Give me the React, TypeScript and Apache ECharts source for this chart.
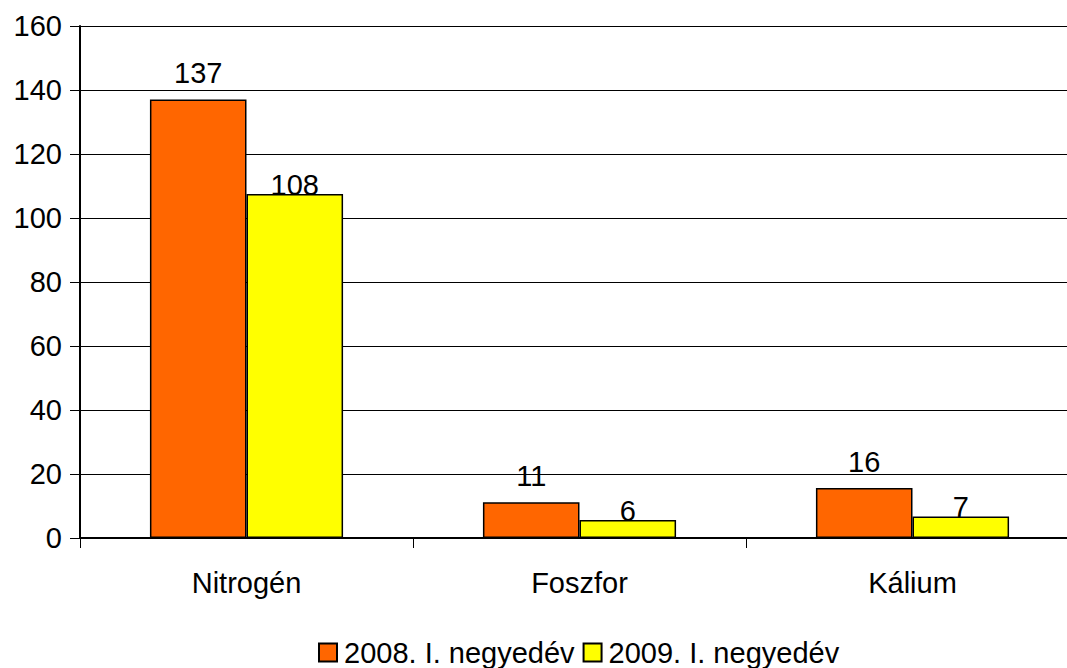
import React, { useEffect, useRef } from "react";
import * as echarts from "echarts";

const categories = ["Nitrogén", "Foszfor", "Kálium"];
const seriesNames = ["2008. I. negyedév", "2009. I. negyedév"];
const values2008 = [137, 11.2, 15.6];
const values2009 = [107.5, 5.6, 6.7];
const yTicks = { min: 0, max: 160, interval: 20 };

const FONT = "Liberation Sans, Arial, sans-serif";
const FS = 29;

export default function App() {
  const ref = useRef<HTMLDivElement>(null);
  useEffect(() => {
    document.body.style.margin = "0";
    const chart = echarts.init(ref.current!, null, { renderer: "svg" });
    chart.setOption({
      animation: false,
      backgroundColor: "#ffffff",
      textStyle: { fontFamily: FONT, color: "#000" },
      grid: { left: 80, top: 26, right: 0, height: 512, containLabel: false },
      legend: {
        bottom: -4,
        left: 313,
        itemWidth: 18,
        itemHeight: 18,
        itemGap: 8,
        icon: "rect",
        textStyle: { fontSize: FS, fontFamily: FONT, color: "#000", padding: [0, 0, 0, 2] },
        data: seriesNames,
      },
      xAxis: {
        type: "category",
        data: categories,
        axisLine: { lineStyle: { color: "#000", width: 2 } },
        axisTick: { show: true, length: 10, lineStyle: { color: "#000" } },
        axisLabel: { fontSize: FS, color: "#000", fontFamily: FONT, margin: 30 },
      },
      yAxis: {
        type: "value",
        min: yTicks.min,
        max: yTicks.max,
        interval: yTicks.interval,
        axisLine: { show: true, lineStyle: { color: "#000", width: 2 } },
        axisTick: { show: true, length: 10, lineStyle: { color: "#000" } },
        axisLabel: { fontSize: FS, color: "#000", fontFamily: FONT, margin: 18 },
        splitLine: { show: true, lineStyle: { color: "#000", width: 1 } },
      },
      series: [
        {
          name: seriesNames[0],
          type: "bar",
          data: values2008,
          barGap: "0%",
          barCategoryGap: "42%",
          itemStyle: { color: "#FF6600", borderColor: "#000", borderWidth: 1.5 },
          label: {
            show: true,
            position: "top",
            distance: 12,
            fontSize: FS,
            color: "#000",
            fontFamily: FONT,
            formatter: (p: any) => String(Math.round(p.value)),
          },
        },
        {
          name: seriesNames[1],
          type: "bar",
          data: values2009,
          itemStyle: { color: "#FFFF00", borderColor: "#000", borderWidth: 1.5 },
          label: {
            show: true,
            position: "top",
            distance: -5,
            fontSize: FS,
            color: "#000",
            fontFamily: FONT,
            formatter: (p: any) => String(Math.round(p.value)),
          },
        },
      ],
    });
    return () => chart.dispose();
  }, []);
  return (
    <div style={{ width: 1067, height: 668, overflow: "hidden" }}>
      <div ref={ref} style={{ width: 1079, height: 668 }} />
    </div>
  );
}
